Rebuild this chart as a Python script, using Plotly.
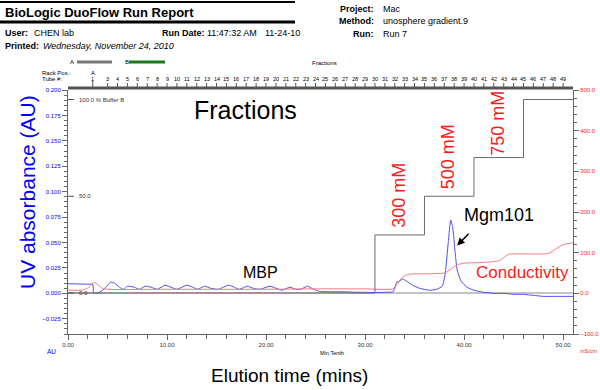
import plotly.graph_objects as go

# ---------------- data ----------------
time_uv = [0, 1.0, 2.0, 2.5, 2.6, 3.0, 3.5, 4.0, 4.3, 4.7, 5.2, 5.6, 6.0, 6.7, 7.2, 7.8, 8.4, 9.0,
           9.8, 10.4, 11.0, 12.0, 12.6, 13.1, 13.8, 14.4, 15.2, 16.2, 16.8, 17.3, 18.1, 18.7,
           19.4, 20.4, 21.0, 21.6, 22.4, 23.0, 23.5, 24.2, 24.8, 25.4, 26.5, 28.0, 29.0, 30.0,
           31.0, 32.0, 32.8, 33.0, 33.2, 33.5, 33.8, 34.2, 34.8, 35.5, 36.5, 37.2, 37.8, 38.1,
           38.4, 38.65, 38.85, 39.1, 39.3, 39.7, 40.3, 41.0, 42.0, 43.0, 44.0, 45.0, 46.0, 47.0,
           48.0, 49.0, 50.0, 51.0]
uv_au = [0.0095, 0.0092, 0.009, 0.0088, 0.0, 0.0005, 0.003, 0.008, 0.011, 0.010, 0.006, 0.004,
         0.007, 0.006, 0.004, 0.007, 0.006, 0.004, 0.008, 0.006, 0.004, 0.008, 0.006, 0.004,
         0.007, 0.005, 0.004, 0.008, 0.006, 0.004, 0.007, 0.005, 0.004, 0.007, 0.005, 0.003,
         0.006, 0.004, 0.004, 0.007, 0.004, 0.002, 0.0015, 0.0015, 0.001, 0.001, 0.0008, 0.001,
         0.0015, 0.005, 0.011, 0.012, 0.014, 0.012, 0.008, 0.005, 0.003, 0.004, 0.007, 0.02,
         0.05, 0.072, 0.065, 0.04, 0.023, 0.012, 0.006, 0.003, 0.001, 0.0, 0.0, -0.001, -0.001,
         -0.002, -0.003, -0.003, -0.003, -0.003]

time_cond = [0, 1.5, 2.2, 2.6, 3.0, 3.5, 4.0, 10, 20, 25, 30, 32.8, 33.3, 33.8, 34.4, 36, 38.0,
             38.6, 39.3, 40.0, 42, 43.5, 44.0, 44.5, 46, 48.5, 49.2, 50.0, 51]
cond_ms = [8, 8, 16, 27, 22, 12, 10, 10, 10, 11, 11, 11, 25, 40, 47, 48, 50, 58, 70, 74, 76, 80,
           88, 96, 97, 98, 108, 120, 124]

time_grad = [0, 31, 36, 41, 46, 51]
pct_buffer_b = [0, 30, 50, 70, 100, 100]

step_labels = ["300 mM", "500 mM", "750 mM"]
tube_numbers = [1] + list(range(3, 50))

FONT = "Liberation Sans, Arial, sans-serif"
BLUE = "#0000ff"
RED = "#ff1a1a"

# pixel -> paper helpers (plot area: x 68..573, y 90..334)
def fx(px):
    return (px - 68) / 505.0

def fy(py):
    return (334 - py) / 244.0

fig = go.Figure()
fig.add_trace(go.Scatter(x=time_grad, y=pct_buffer_b, yaxis="y3", mode="lines",
                         line=dict(color="#6a6a6a", width=1, shape="hv"), hoverinfo="skip"))
fig.add_trace(go.Scatter(x=time_cond, y=cond_ms, yaxis="y2", mode="lines",
                         line=dict(color="#f27a7a", width=1, shape="spline", smoothing=0.6)))
fig.add_trace(go.Scatter(x=time_uv, y=uv_au, yaxis="y", mode="lines",
                         line=dict(color="#4d4dff", width=1, shape="spline", smoothing=0.5)))

ann = []
shapes = []

def txt(px, py, text, size=9, color="black", xanchor="left", angle=0, yanchor="middle"):
    ann.append(dict(x=fx(px), y=fy(py), xref="paper", yref="paper", text=text, showarrow=False,
                    xanchor=xanchor, yanchor=yanchor, textangle=angle,
                    font=dict(family=FONT, size=size, color=color)))

def hline(px0, px1, py, width, color):
    shapes.append(dict(type="line", xref="paper", yref="paper", x0=fx(px0), x1=fx(px1),
                       y0=fy(py), y1=fy(py), line=dict(color=color, width=width)))

# header
hline(0, 295, 2, 2, "black")
hline(0, 295, 22, 3, "black")
txt(3, 12, "<b>BioLogic DuoFlow Run Report</b>", size=13)
txt(3, 33, "<b>User:</b>", size=9)
txt(32, 33, "CHEN lab", size=9)
txt(160, 33, "<b>Run Date:</b>", size=9)
txt(205, 33, "11:47:32 AM", size=9)
txt(263, 33, "11-24-10", size=9)
txt(3, 46, "<b>Printed:</b>", size=9)
txt(41, 46, "<i>Wednesday, November 24, 2010</i>", size=9)
txt(376, 9, "<b>Project:</b>", size=9, xanchor="right")
txt(381, 9, "Mac", size=9)
txt(376, 21, "<b>Method:</b>", size=9, xanchor="right")
txt(381, 21, "unosphere gradient.9", size=9)
txt(376, 34, "<b>Run:</b>", size=9, xanchor="right")
txt(381, 34, "Run 7", size=9)
txt(68, 62, "A", size=6)
hline(77, 112, 62, 3, "#777777")
txt(123, 62, "B", size=6)
hline(129, 165, 62, 3, "#1b7a1b")
txt(310, 63, "Fractions", size=6)
txt(40, 73, "Rack Pos.:", size=6)
txt(40, 79, "Tube #:", size=6)
txt(93, 73, "A", size=6, xanchor="center")

# fraction ruler
hline(68, 573, 88, 3, "#555555")
for n in tube_numbers:
    t = 2.5 if n == 1 else n + 1.0
    ann.append(dict(x=t, y=fy(79), xref="x", yref="paper", text=str(n), showarrow=False,
                    xanchor="center", yanchor="middle", font=dict(family=FONT, size=5.5, color="black")))
    shapes.append(dict(type="line", xref="x", yref="paper", x0=t, x1=t, y0=fy(88),
                       y1=fy(83 if n != 1 else 81), line=dict(color="#555555", width=1)))

# %B inner axis
for v, label in [(100, "100.0 % Buffer B"), (50, "50.0"), (0, "0.0")]:
    shapes.append(dict(type="line", xref="paper", yref="y3", x0=fx(68), x1=fx(74), y0=v, y1=v,
                       line=dict(color="#555555", width=1)))
    ann.append(dict(x=fx(77), y=v, xref="paper", yref="y3", text=label, showarrow=False,
                    xanchor="left", yanchor="middle", font=dict(family=FONT, size=6, color="#333333")))

# in-plot annotations
txt(192, 110, "Fractions", size=25)
txt(260, 272, "MBP", size=16, xanchor="center")
txt(462, 215, "Mgm101", size=18)
txt(474, 272, "Conductivity", size=17, color=RED)
for t, lab, cy in zip(time_grad[1:4], step_labels, [195, 157, 123]):
    ann.append(dict(x=t + 2.4, y=fy(cy), xref="x", yref="paper", text=lab, showarrow=False,
                    textangle=-90, xanchor="center", yanchor="middle",
                    font=dict(family=FONT, size=18, color=RED)))
ann.append(dict(x=39.3, y=0.047, xref="x", yref="y", ax=40.6, ay=0.060, axref="x", ayref="y",
                text="", showarrow=True, arrowhead=2, arrowsize=1, arrowwidth=1.5, arrowcolor="black"))

# axis titles and units
txt(27, 192, "UV absorbance (AU)", size=21, color=BLUE, xanchor="center", angle=-90)
txt(289, 375, "Elution time (mins)", size=19, xanchor="center")
txt(45, 351, "AU", size=6.5, color=BLUE)
txt(318, 353, "Min.Tenth", size=5.5)
txt(578, 351, "mS/cm", size=5.5, color=RED)

axis_common = dict(showgrid=False, showline=True, linecolor="#666666", linewidth=1,
                   ticks="outside", ticklen=5, tickcolor="#666666", automargin=False)

fig.update_layout(
    width=600, height=390,
    margin=dict(l=68, r=27, t=90, b=56, autoexpand=False),
    paper_bgcolor="white", plot_bgcolor="white",
    showlegend=False,
    font=dict(family=FONT, size=6),
    xaxis=dict(range=[0, 51], tickmode="linear", tick0=0, dtick=10, tickformat=".2f",
               tickfont=dict(size=6, color="#333333"), zeroline=False,
               minor=dict(tickmode="linear", tick0=0, dtick=2, ticks="outside", ticklen=4,
                          tickcolor="#666666"), **axis_common),
    yaxis=dict(range=[-0.04, 0.2], tickmode="linear", tick0=0, dtick=0.025, tickformat=".3f",
               tickfont=dict(size=6, color=BLUE), zeroline=True, zerolinecolor="#c4c4c4",
               zerolinewidth=2,
               minor=dict(tickmode="linear", tick0=0, dtick=0.005, ticks="outside", ticklen=3,
                          tickcolor="#666666"), **axis_common),
    yaxis2=dict(range=[-100, 500], overlaying="y", side="right", anchor="x", tickmode="linear",
                tick0=0, dtick=100, tickformat=".1f", tickfont=dict(size=6, color=RED),
                zeroline=False,
                minor=dict(tickmode="linear", tick0=0, dtick=20, ticks="outside", ticklen=3,
                           tickcolor="#666666"), **axis_common),
    yaxis3=dict(range=[-21.19, 104.91], overlaying="y", visible=False, showgrid=False,
                automargin=False),
    annotations=ann,
    shapes=shapes,
)

fig.write_html("out.html", config={"displayModeBar": False},
               post_script="document.body.style.margin='0';document.body.style.overflow='hidden';")
